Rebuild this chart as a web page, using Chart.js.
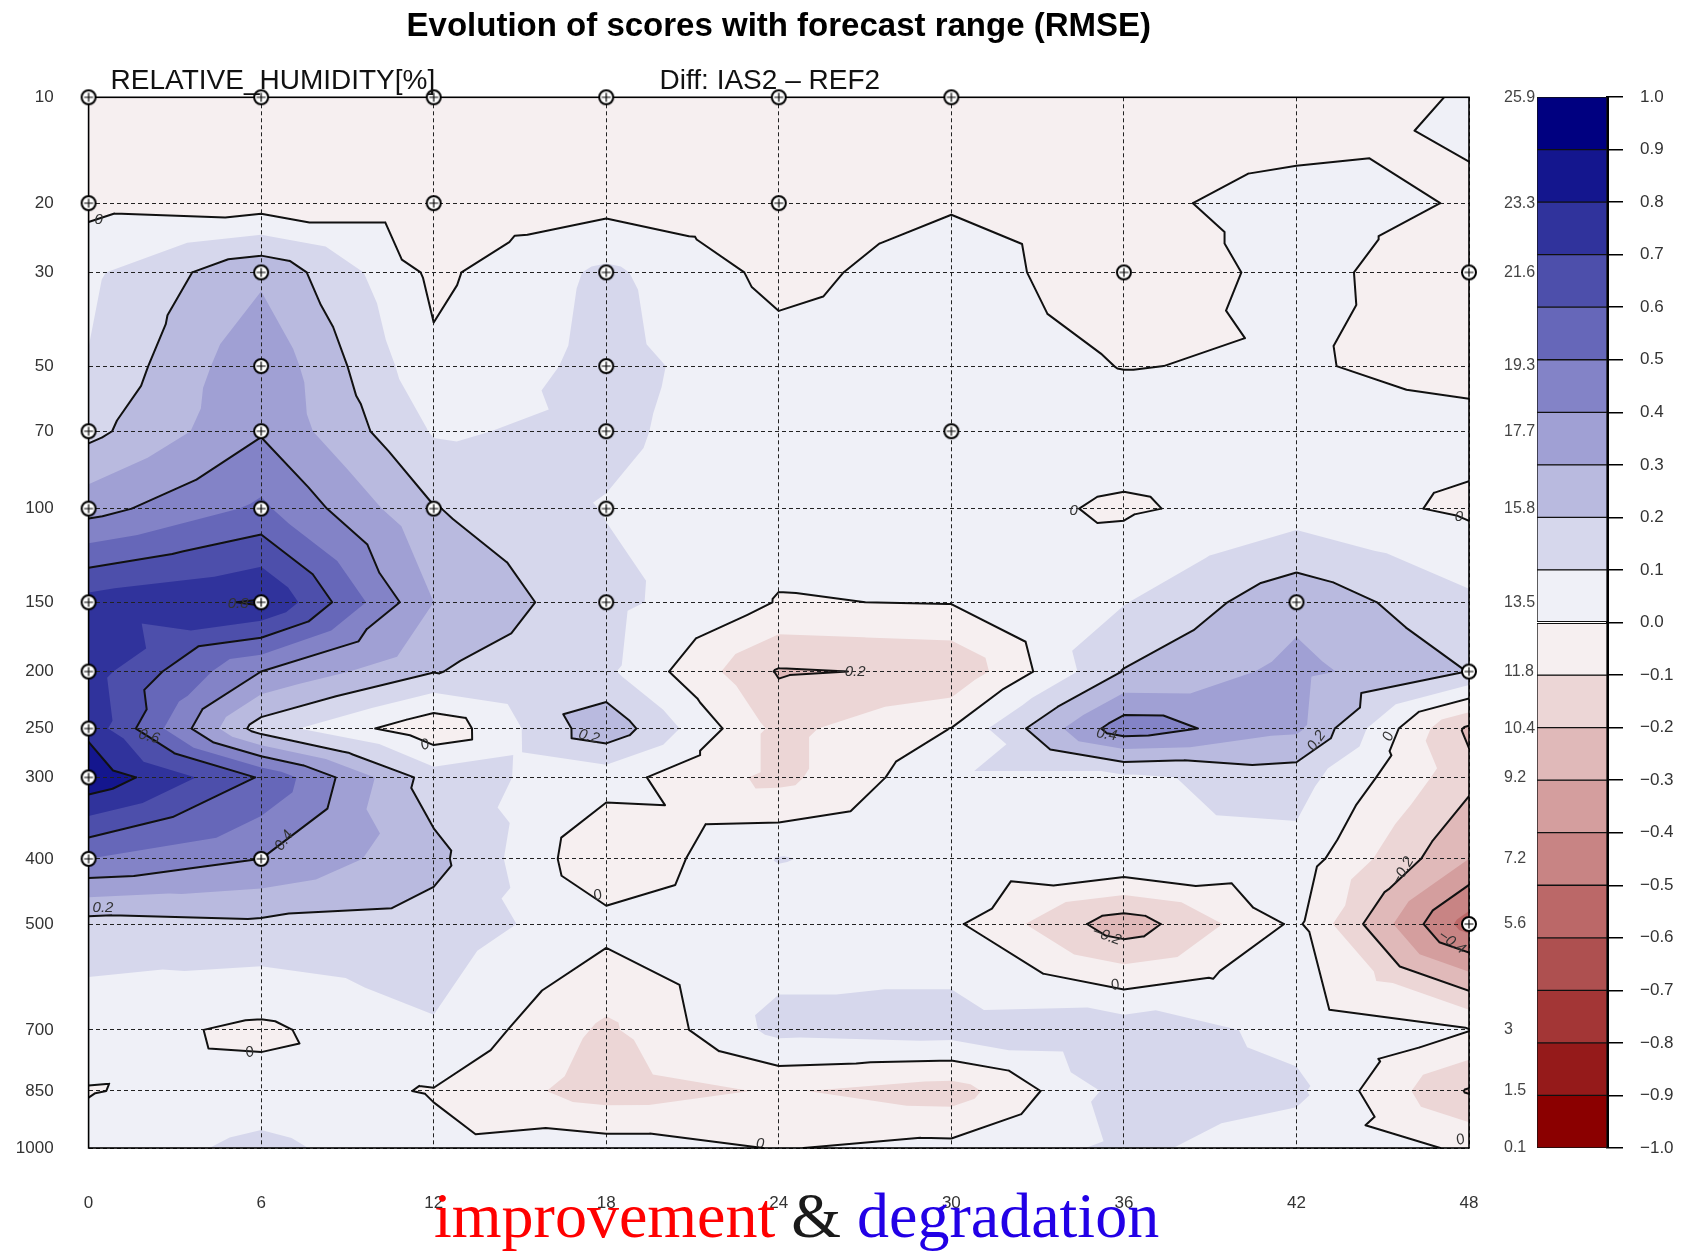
<!DOCTYPE html>
<html>
<head>
<meta charset="utf-8">
<script src="https://cdn.jsdelivr.net/npm/chart.js@4.4.1/dist/chart.umd.min.js"></script>
<style>
  html, body { margin: 0; padding: 0; background: #fff; }
  body { width: 1695px; height: 1251px; position: relative; overflow: hidden; }
  #main { position: absolute; left: 0; top: 0; width: 1695px; height: 1251px; }
  #bar { position: absolute; left: 1535px; top: 87px; width: 160px; height: 1071px; }
  #verdict { position: absolute; left: 434px; top: 1184px; font-family: "Liberation Serif", "Times New Roman", serif;
             font-size: 64px; line-height: 64px; white-space: nowrap; }
</style>
</head>
<body>
<div id="main"><canvas id="scoreChart"></canvas></div>
<div id="bar"><canvas id="scaleChart"></canvas></div>
<div id="verdict"><span style="color:#ff0000">improvement</span> <span style="color:#1a1a1a">&amp;</span> <span style="color:#2200e6">degradation</span></div>

<script>
// Forecast steps (hours) and vertical levels
const forecastHours = [0, 6, 12, 18, 24, 30, 36, 42, 48];
const pressureLevels = [10, 20, 30, 50, 70, 100, 150, 200, 250, 300, 400, 500, 700, 850, 1000];
const levelHeights = [25.9, 23.3, 21.6, 19.3, 17.7, 15.8, 13.5, 11.8, 10.4, 9.2, 7.2, 5.6, 3, 1.5, 0.1];

// RMSE difference IAS2 - REF2 at each forecast step, listed from 10 hPa down to 1000 hPa
const diffStep00 = [-0.05, -0.03, 0.08, 0.105, 0.17, 0.36, 0.74, 0.75, 0.77, 0.88, 0.5, 0.16, 0.04, -0.004, 0.03];
const diffStep06 = [-0.05, -0.05, 0.28, 0.38, 0.39, 0.52, 0.81, 0.4, 0.15, 0.59, 0.4, 0.18, -0.02, 0.035, 0.13];
const diffStep12 = [-0.05, -0.05, -0.023, 0.02, 0.09, 0.205, 0.3, 0.205, -0.077, 0.15, 0.23, 0.16, 0.09, -0.005, 0.02];
const diffStep18 = [-0.05, -0.034, 0.12, 0.13, 0.12, 0.095, 0.13, 0.12, 0.27, 0.04, -0.09, 0.035, -0.12, -0.15, 0.05];
const diffStep24 = [-0.05, -0.05, -0.03, 0.043, 0.04, 0.04, -0.005, -0.21, -0.13, -0.13, 0.105, 0.04, 0.13, -0.09, -0.005];
const diffStep30 = [-0.05, -0.01, 0.05, 0.05, 0.05, 0.04, 0.005, -0.185, 0.002, 0.08, 0.05, 0.02, 0.15, -0.15, 0.03];
const diffStep36 = [-0.05, -0.02, -0.064, -0.003, 0.05, -0.014, 0.095, 0.205, 0.46, 0.08, 0.1, -0.26, 0.16, 0.14, 0.12];
const diffStep42 = [-0.055, 0.03, 0.03, 0.01, 0.04, 0.05, 0.27, 0.33, 0.32, 0.146, 0.06, 0.02, 0.07, 0.12, 0.05];
const diffStep48 = [0.0093, -0.006, -0.06, -0.033, 0.033, -0.018, 0.12, 0.198, -0.22, -0.17, -0.3, -0.55, 0.005, -0.21, -0.01];

// Points where the difference is significant
const significantHours  = [0, 6, 12, 18, 24, 30,  0, 12, 24,  6, 18, 36, 48,  6, 18,  0, 6, 18, 30,  0, 6, 12, 18,  0, 6, 18, 42,  0, 48,  0,   0,   0, 6,  48];
const significantLevels = [10, 10, 10, 10, 10, 10, 20, 20, 20, 30, 30, 30, 30, 50, 50, 70, 70, 70, 70, 100, 100, 100, 100, 150, 150, 150, 150, 200, 200, 250, 300, 400, 400, 500];

// Colour bands, from -1.0..-0.9 up to 0.9..1.0
const bandColors = ['#8b0000', '#951a1a', '#a33636', '#ae5050', '#bb6868', '#c88484', '#d49e9e', '#e0b9b9', '#ecd6d6', '#f6eff0',
                    '#eff0f7', '#d6d7ec', '#b9badf', '#a0a0d4', '#8383c7', '#6667b9', '#4d4fab', '#30339c', '#14168e', '#000080'];
const lineLevels = [-0.8, -0.6, -0.4, -0.2, 0, 0.2, 0.4, 0.6, 0.8];
const colorbarTicks = [-1.0, -0.9, -0.8, -0.7, -0.6, -0.5, -0.4, -0.3, -0.2, -0.1, 0.0, 0.1, 0.2, 0.3, 0.4, 0.5, 0.6, 0.7, 0.8, 0.9, 1.0];

// Contour labels (forecast hour, height in km)
const labelText  = ['0', '0.8', '0.6', '0', '0.2', '0.4', '0.2', '0', '0', '\u22120.2', '0', '0', '0.4', '0.2', '0', '\u22120.2', '\u22120.2', '0', '\u22120.4', '0', '0'];
const labelHour  = [0.35, 5.2, 2.1, 11.7, 17.4, 6.8, 0.5, 5.6, 17.7, 26.5, 34.25, 47.65, 35.4, 42.7, 45.2, 45.7, 35.4, 35.7, 47.4, 47.7, 23.35];
const labelKm    = [22.9, 13.45, 10.2, 10.0, 10.2, 7.65, 6.0, 2.45, 6.3, 11.8, 15.75, 15.6, 10.25, 10.1, 10.2, 6.9, 5.3, 4.1, 5.15, 0.3, 0.2];
const labelAngle = [0, 0, 15, -20, 15, -55, 0, -20, -20, 0, 0, 0, 10, -55, -70, -60, 20, -20, 35, -20, 0];

const diffGrid = [diffStep00, diffStep06, diffStep12, diffStep18, diffStep24, diffStep30, diffStep36, diffStep42, diffStep48];
const FONT = '"Liberation Sans", Arial, Helvetica, sans-serif';

function heightOf(p) { return levelHeights[pressureLevels.indexOf(p)]; }

// Split every grid cell into four triangles around its centre, in pixel space
function buildTriangles(xs, ys) {
  const tris = [];
  const P = (i, j) => ({ x: xs.getPixelForValue(forecastHours[i]), y: ys.getPixelForValue(levelHeights[j]), v: diffGrid[i][j] });
  for (let i = 0; i < forecastHours.length - 1; i++) {
    for (let j = 0; j < levelHeights.length - 1; j++) {
      const A = P(i, j), B = P(i + 1, j), C = P(i + 1, j + 1), D = P(i, j + 1);
      const E = { x: (A.x + B.x + C.x + D.x) / 4, y: (A.y + B.y + C.y + D.y) / 4, v: (A.v + B.v + C.v + D.v) / 4 };
      tris.push([A, B, E], [B, C, E], [C, D, E], [D, A, E]);
    }
  }
  return tris;
}

function clipAbove(tri, t) {
  const out = [];
  for (let k = 0; k < 3; k++) {
    const p = tri[k], q = tri[(k + 1) % 3];
    const pin = p.v >= t, qin = q.v >= t;
    if (pin) out.push(p);
    if (pin !== qin) {
      const f = (t - p.v) / (q.v - p.v);
      out.push({ x: p.x + f * (q.x - p.x), y: p.y + f * (q.y - p.y) });
    }
  }
  return out;
}

const contourPlugin = {
  id: 'contourField',
  beforeDraw(chart) {
    const { ctx, chartArea: a, scales } = chart;
    const tris = buildTriangles(scales.x, scales.y);
    ctx.save();
    ctx.beginPath();
    ctx.rect(a.left, a.top, a.right - a.left, a.bottom - a.top);
    ctx.clip();
    for (let k = 0; k < bandColors.length; k++) {
      const t = k === 0 ? -Infinity : (k - 10) / 10;
      ctx.beginPath();
      for (const tri of tris) {
        const poly = clipAbove(tri, t);
        if (poly.length < 3) continue;
        ctx.moveTo(poly[0].x, poly[0].y);
        for (let n = 1; n < poly.length; n++) ctx.lineTo(poly[n].x, poly[n].y);
        ctx.closePath();
      }
      ctx.fillStyle = bandColors[k];
      ctx.fill();
    }
    ctx.restore();
  },
  beforeDatasetsDraw(chart) {
    const { ctx, chartArea: a, scales } = chart;
    const tris = buildTriangles(scales.x, scales.y);
    ctx.save();
    ctx.beginPath();
    ctx.rect(a.left, a.top, a.right - a.left, a.bottom - a.top);
    ctx.clip();
    // contour lines
    ctx.beginPath();
    for (const L of lineLevels) {
      for (const tri of tris) {
        const pts = [];
        for (let k = 0; k < 3; k++) {
          const p = tri[k], q = tri[(k + 1) % 3];
          const dp = p.v - L, dq = q.v - L;
          if ((dp >= 0) !== (dq >= 0)) {
            const f = dp / (dp - dq);
            pts.push({ x: p.x + f * (q.x - p.x), y: p.y + f * (q.y - p.y) });
          }
        }
        if (pts.length === 2) { ctx.moveTo(pts[0].x, pts[0].y); ctx.lineTo(pts[1].x, pts[1].y); }
      }
    }
    ctx.lineWidth = 2;
    ctx.strokeStyle = '#111';
    ctx.lineJoin = 'round';
    ctx.lineCap = 'round';
    ctx.stroke();
    // contour labels
    ctx.fillStyle = '#333';
    ctx.font = 'italic 15px ' + FONT;
    ctx.textAlign = 'center';
    ctx.textBaseline = 'middle';
    for (let n = 0; n < labelText.length; n++) {
      ctx.save();
      ctx.translate(scales.x.getPixelForValue(labelHour[n]), scales.y.getPixelForValue(labelKm[n]));
      ctx.rotate(labelAngle[n] * Math.PI / 180);
      ctx.fillText(labelText[n], 0, 0);
      ctx.restore();
    }
    ctx.restore();
    // frame
    ctx.save();
    ctx.strokeStyle = '#000';
    ctx.lineWidth = 1.6;
    ctx.strokeRect(a.left, a.top, a.right - a.left, a.bottom - a.top);
    ctx.restore();
  },
  afterDraw(chart) {
    const { ctx, chartArea: a } = chart;
    ctx.save();
    ctx.fillStyle = '#111';
    ctx.font = '28px ' + FONT;
    ctx.textAlign = 'left';
    ctx.textBaseline = 'alphabetic';
    ctx.fillText('RELATIVE_HUMIDITY[%]', a.left + 22, a.top - 8);
    ctx.fillText('Diff: IAS2 \u2013 REF2', a.left + 571, a.top - 8);
    ctx.restore();
  }
};

function markerImage() {
  const c = document.createElement('canvas');
  c.width = 20; c.height = 20;
  const g = c.getContext('2d');
  g.beginPath(); g.arc(10, 10, 7, 0, 2 * Math.PI);
  g.fillStyle = '#fff'; g.fill();
  g.lineWidth = 2; g.strokeStyle = '#000'; g.stroke();
  g.beginPath(); g.moveTo(10, 5.5); g.lineTo(10, 14.5); g.moveTo(5.5, 10); g.lineTo(14.5, 10);
  g.lineWidth = 1.2; g.stroke();
  return c;
}

const significantPoints = significantHours.map((h, n) => ({ x: h, y: heightOf(significantLevels[n]) }));
const tickFont = { family: FONT, size: 17 };

new Chart(document.getElementById('scoreChart'), {
  type: 'scatter',
  data: {
    datasets: [{
      data: significantPoints,
      pointStyle: markerImage(),
      pointRadius: 8,
      clip: false,
      showLine: false
    }]
  },
  options: {
    responsive: true,
    maintainAspectRatio: false,
    animation: false,
    layout: { padding: 0 },
    events: [],
    plugins: {
      legend: { display: false },
      tooltip: { enabled: false },
      title: {
        display: true,
        text: 'Evolution of scores with forecast range (RMSE)',
        fullSize: false,
        color: '#000',
        font: { family: FONT, size: 33, weight: 'bold', lineHeight: 1.2 },
        padding: { top: 7, bottom: 50.7 }
      }
    },
    scales: {
      x: {
        type: 'linear', min: 0, max: 48,
        afterBuildTicks: s => { s.ticks = forecastHours.map(v => ({ value: v })); },
        ticks: { color: '#333', font: tickFont, padding: 45, autoSkip: false, maxRotation: 0 },
        grid: { color: '#222', lineWidth: 1, drawTicks: false },
        border: { display: false, dash: [4, 3] },
        afterFit: s => { s.height = 103; }
      },
      y: {
        type: 'linear', position: 'left', min: 0.1, max: 25.9,
        afterBuildTicks: s => { s.ticks = levelHeights.slice().reverse().map(v => ({ value: v })); },
        ticks: { color: '#333', font: tickFont, padding: 35, autoSkip: false,
                 callback: v => String(pressureLevels[levelHeights.indexOf(v)]) },
        grid: { color: '#222', lineWidth: 1, drawTicks: false },
        border: { display: false, dash: [4, 3] },
        afterFit: s => { s.width = 88.6; }
      },
      y2: {
        type: 'linear', position: 'right', min: 0.1, max: 25.9,
        afterBuildTicks: s => { s.ticks = levelHeights.slice().reverse().map(v => ({ value: v })); },
        ticks: { color: '#444', font: { family: FONT, size: 16 }, padding: 35, autoSkip: false,
                 callback: v => String(v) },
        grid: { display: false, drawTicks: false },
        border: { display: false },
        afterFit: s => { s.width = 226; }
      }
    }
  },
  plugins: [contourPlugin]
});

// Colour scale: positive bands stack upwards from 0, negative bands downwards
const scaleSets = [];
for (let k = 10; k < 20; k++) scaleSets.push({ data: [0.1], backgroundColor: bandColors[k] });
for (let k = 9; k >= 0; k--) scaleSets.push({ data: [-0.1], backgroundColor: bandColors[k] });
scaleSets.forEach(d => Object.assign(d, { borderColor: '#111', borderWidth: 1, borderSkipped: false, barPercentage: 1, categoryPercentage: 1 }));

new Chart(document.getElementById('scaleChart'), {
  type: 'bar',
  data: { labels: [''], datasets: scaleSets },
  options: {
    responsive: true,
    maintainAspectRatio: false,
    animation: false,
    events: [],
    layout: { padding: { left: 2, top: 10, bottom: 10, right: 0 } },
    plugins: { legend: { display: false }, tooltip: { enabled: false } },
    scales: {
      x: { display: false, stacked: true },
      y: {
        stacked: true, position: 'right', min: -1, max: 1,
        afterBuildTicks: s => { s.ticks = colorbarTicks.map(v => ({ value: v })); },
        ticks: { color: '#333', font: tickFont, padding: 17, autoSkip: false,
                 callback: v => v.toFixed(1).replace('-', '\u2212') },
        grid: { drawOnChartArea: false, drawTicks: true, tickLength: 16, color: '#000', lineWidth: 1.5 },
        border: { display: true, color: '#000', width: 3 },
        afterFit: s => { s.width = 88; s.paddingTop = 0; s.paddingBottom = 0; }
      }
    }
  }
});
</script>
</body>
</html>
